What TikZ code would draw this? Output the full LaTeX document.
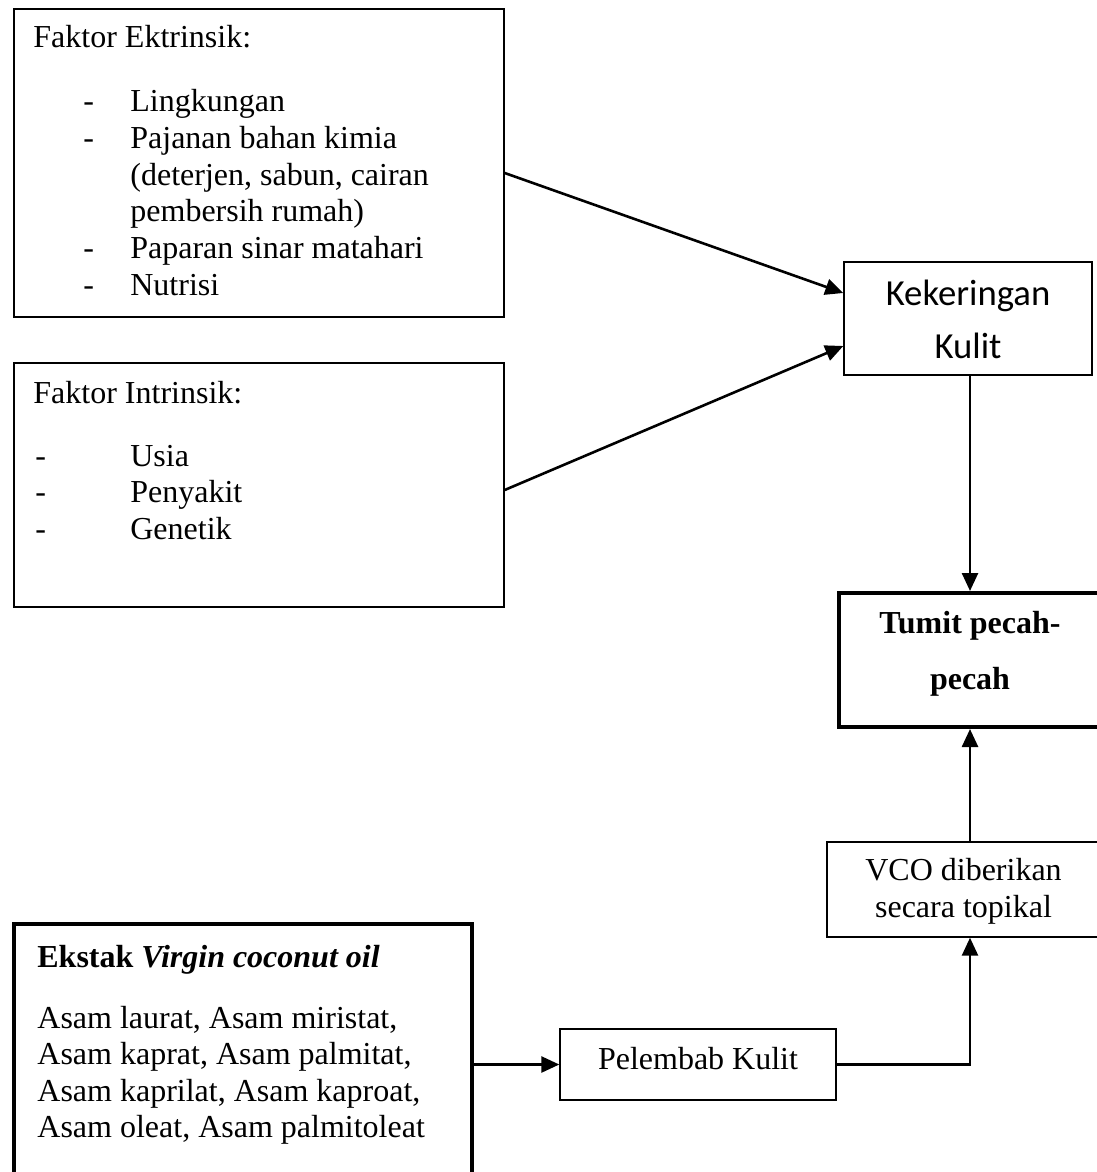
\documentclass[tikz,border=0pt]{standalone}
\usepackage{fontspec}
\setmainfont{Liberation Serif}
\newfontfamily\calibri{Carlito}
\usetikzlibrary{arrows.meta}
\newcommand{\dashitem}[2]{\makebox[48.5pt][l]{\hspace*{#1}-}#2}
\tikzset{
	box/.style={draw, line width=0.7pt, inner sep=0pt},
	thickbox/.style={box, line width=2pt},
	txt/.style={inner sep=0pt, anchor=base west, font=\fontsize{16}{18.3}\selectfont},
	conn/.style={line width=1.3pt, -{Triangle[length=9pt,width=8pt]}}
}
\begin{document}
\begin{tikzpicture}[x=0.5pt, y=-0.5pt]
	\useasboundingbox (0,0) rectangle (1097,1172);

	% boxes
	\node[box, minimum width=245pt, minimum height=154pt] (ekstr) at (259,163) {};
	\node[box, minimum width=245pt, minimum height=122pt] (intr) at (259,485) {};
	\node[box, minimum width=124pt, minimum height=56.5pt] (keker) at (968,318.5) {};
	\node[thickbox, minimum width=131pt, minimum height=67pt] (tumit) at (970,660) {};
	\node[box, minimum width=136.5pt, minimum height=47.5pt] (vco) at (963.5,889.5) {};
	\node[thickbox, minimum width=229pt, minimum height=133pt] (ekstak) at (243,1057) {};
	\node[box, minimum width=138pt, minimum height=35.5pt] (pelem) at (698,1064.5) {};

	% texts
	\node[txt] (ekstr-txt) at (33,48) {\begin{tabular}[t]{@{}l@{}}
		Faktor Ektrinsik:\\[13.7pt]
		\dashitem{25pt}{Lingkungan}\\
		\dashitem{25pt}{Pajanan bahan kimia}\\
		\hspace*{48.5pt}(deterjen, sabun, cairan\\
		\hspace*{48.5pt}pembersih rumah)\\
		\dashitem{25pt}{Paparan sinar matahari}\\
		\dashitem{25pt}{Nutrisi}
	\end{tabular}};
	\node[txt] (intr-txt) at (33,403) {\begin{tabular}[t]{@{}l@{}}
		Faktor Intrinsik:\\[13.2pt]
		\dashitem{1pt}{Usia}\\
		\dashitem{1pt}{Penyakit}\\
		\dashitem{1pt}{Genetik}
	\end{tabular}};
	\node[txt, anchor=base, font=\calibri\fontsize{18.35}{26.5}\selectfont] (keker-txt) at (968,305)
		{\begin{tabular}[t]{@{}c@{}}Kekeringan\\Kulit\end{tabular}};
	\node[txt, anchor=base, font=\fontsize{16}{28}\selectfont\bfseries] (tumit-txt) at (970,633)
		{\begin{tabular}[t]{@{}c@{}}Tumit pecah-\\pecah\end{tabular}};
	\node[txt, anchor=base, font=\fontsize{16}{18.5}\selectfont] (vco-txt) at (963.5,880)
		{\begin{tabular}[t]{@{}c@{}}VCO diberikan\\secara topikal\end{tabular}};
	\node[txt] (ekstak-txt) at (37,967) {\begin{tabular}[t]{@{}l@{}}
		\textbf{Ekstak \textit{Virgin coconut oil}}\\[12.2pt]
		Asam laurat, Asam miristat,\\
		Asam kaprat, Asam palmitat,\\
		Asam kaprilat, Asam kaproat,\\
		Asam oleat, Asam palmitoleat
	\end{tabular}};
	\node[txt, anchor=base] (pelem-txt) at (698,1069) {Pelembab Kulit};

	% connectors
	\draw[conn] ([yshift=-5pt]ekstr.east) -- ([yshift=12.75pt]keker.west);
	\draw[conn] ([yshift=-2.5pt]intr.east) -- ([yshift=-13.75pt]keker.west);
	\draw[conn] (keker.south -| tumit.north) -- (tumit.north);
	\draw[conn] (tumit.south |- vco.north) -- (tumit.south);
	\draw[conn] (pelem.west -| ekstak.east) -- (pelem.west);
	\draw[conn] (pelem.east) -| (tumit.south |- vco.south);
\end{tikzpicture}
\end{document}
